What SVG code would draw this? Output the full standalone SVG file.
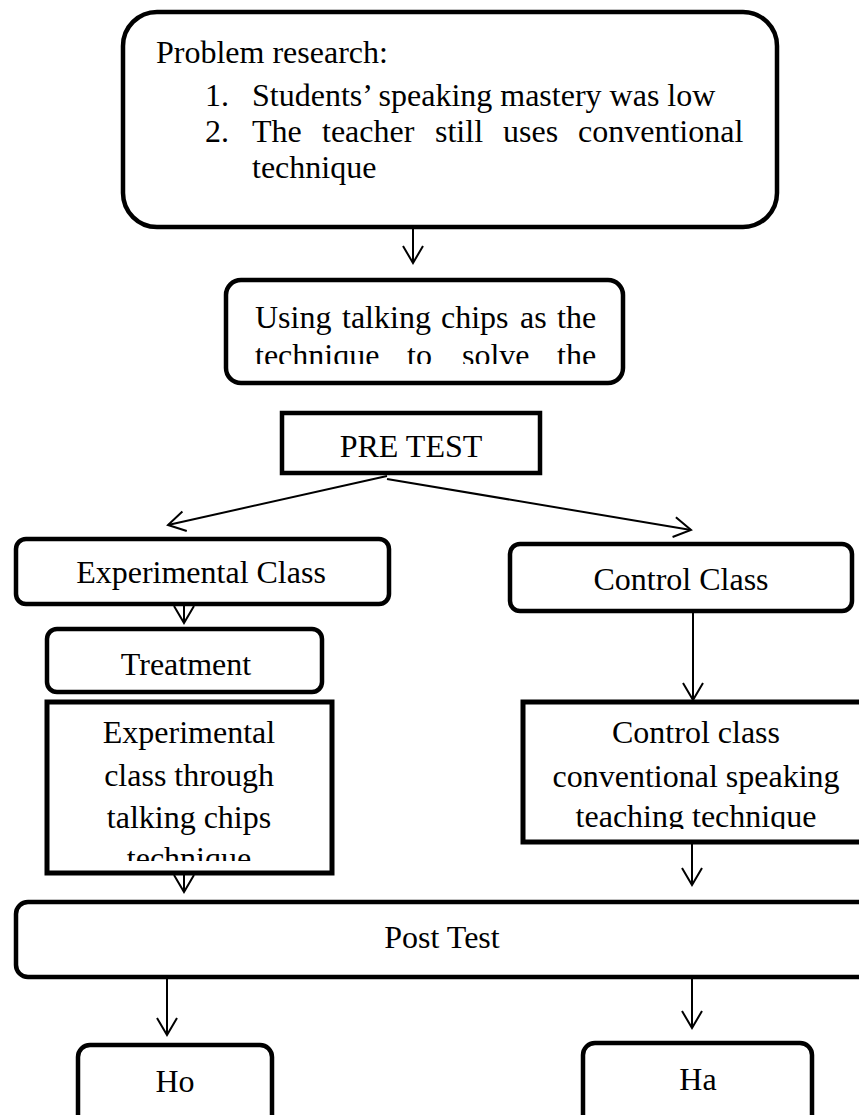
<svg xmlns="http://www.w3.org/2000/svg" width="859" height="1115" viewBox="0 0 859 1115">
<style>
  .box { fill: #ffffff; stroke: #000000; stroke-width: 4.5; }
  .t { font-family: "Liberation Serif", "Times New Roman", serif; font-size: 32px; fill: #000000; }
  .c { text-anchor: middle; }
  .conn { stroke: #000000; stroke-width: 2; fill: none; marker-end: url(#arr); }
</style>
<defs>
  <marker id="arr" markerUnits="userSpaceOnUse" markerWidth="24" markerHeight="24" viewBox="-20 -12 24 24" refX="0" refY="0" orient="auto">
    <path d="M -17 -10 L 0 0 L -17 10" fill="none" stroke="#000000" stroke-width="2"/>
  </marker>
  <clipPath id="clipUsing"><rect x="228" y="282" width="393" height="82"/></clipPath>
  <clipPath id="clipExp"><rect x="50" y="704" width="280" height="157"/></clipPath>
  <clipPath id="clipCtl"><rect x="525" y="704" width="340" height="125"/></clipPath>
</defs>
<rect width="859" height="1115" fill="#ffffff"/>

<g id="connectors">
  <line class="conn" x1="413" y1="228" x2="413" y2="263"/>
  <line class="conn" x1="387" y1="476" x2="168" y2="525"/>
  <line class="conn" x1="387" y1="479" x2="691" y2="530"/>
  <line class="conn" x1="184" y1="600" x2="184" y2="623"/>
  <line class="conn" x1="693" y1="611" x2="693" y2="700"/>
  <line class="conn" x1="184" y1="870" x2="184" y2="892"/>
  <line class="conn" x1="692" y1="842" x2="692" y2="885"/>
  <line class="conn" x1="167" y1="977" x2="167" y2="1035"/>
  <line class="conn" x1="692" y1="977" x2="692" y2="1028"/>
</g>

<g id="problem">
  <rect class="box" x="123" y="12" width="654" height="215" rx="34" ry="34"/>
  <text class="t" x="156" y="63">Problem research:</text>
  <text class="t" x="205" y="106">1.</text>
  <text class="t" x="252" y="106">Students’ speaking mastery was low</text>
  <text class="t" x="205" y="142">2.</text>
  <text class="t" y="142"><tspan x="252">The</tspan><tspan x="322">teacher</tspan><tspan x="435">still</tspan><tspan x="503">uses</tspan><tspan x="578">conventional</tspan></text>
  <text class="t" x="252" y="178">technique</text>
</g>

<g id="using">
  <rect class="box" x="226" y="280" width="397" height="103" rx="15" ry="15"/>
  <g clip-path="url(#clipUsing)">
    <text class="t" y="328"><tspan x="255">Using</tspan><tspan x="342">talking</tspan><tspan x="441">chips</tspan><tspan x="520">as</tspan><tspan x="557">the</tspan></text>
    <text class="t" y="366"><tspan x="255">technique</tspan><tspan x="407">to</tspan><tspan x="462">solve</tspan><tspan x="557">the</tspan></text>
  </g>
</g>

<g id="pretest">
  <rect class="box" x="282" y="413" width="258" height="60"/>
  <text class="t c" x="411" y="457">PRE TEST</text>
</g>

<g id="experimental-class">
  <rect class="box" x="16" y="539" width="373" height="65" rx="10" ry="10"/>
  <text class="t c" x="201" y="583">Experimental Class</text>
</g>

<g id="control-class">
  <rect class="box" x="510" y="544" width="342" height="67" rx="10" ry="10"/>
  <text class="t c" x="681" y="590">Control Class</text>
</g>

<g id="treatment">
  <rect class="box" x="47" y="629" width="275" height="63" rx="10" ry="10"/>
  <text class="t c" x="186" y="675">Treatment</text>
</g>

<g id="experimental-technique">
  <rect class="box" x="47" y="702" width="285" height="171" style="stroke-width:5"/>
  <g clip-path="url(#clipExp)">
    <text class="t c" x="189" y="743">Experimental</text>
    <text class="t c" x="189" y="786">class through</text>
    <text class="t c" x="189" y="828">talking chips</text>
    <text class="t c" x="189" y="869">technique</text>
  </g>
</g>

<g id="control-technique">
  <rect class="box" x="523" y="702" width="400" height="140" style="stroke-width:5"/>
  <g clip-path="url(#clipCtl)">
    <text class="t c" x="696" y="743">Control class</text>
    <text class="t c" x="696" y="787">conventional speaking</text>
    <text class="t c" x="696" y="827">teaching technique</text>
  </g>
</g>

<g id="posttest">
  <rect class="box" x="16" y="902" width="900" height="75" rx="12" ry="12"/>
  <text class="t c" x="442" y="948">Post Test</text>
</g>

<g id="ho">
  <rect class="box" x="78" y="1045" width="194" height="100" rx="12" ry="12"/>
  <text class="t c" x="175" y="1092">Ho</text>
</g>

<g id="ha">
  <rect class="box" x="583" y="1043" width="229" height="100" rx="12" ry="12"/>
  <text class="t c" x="698" y="1090">Ha</text>
</g>
</svg>
